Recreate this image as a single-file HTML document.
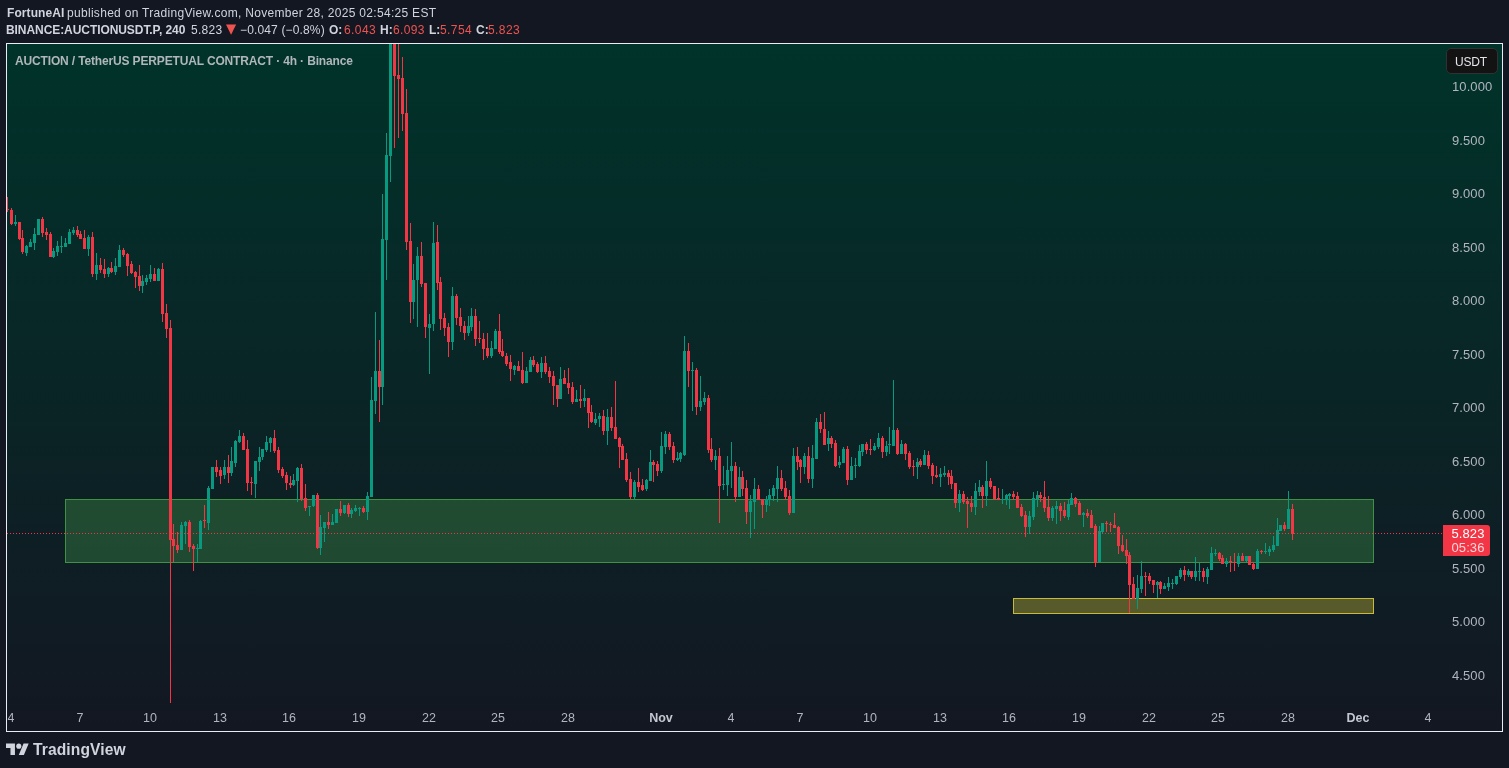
<!DOCTYPE html>
<html lang="en">
<head>
<meta charset="utf-8">
<title>AUCTIONUSDT.P chart</title>
<style>
html,body{margin:0;padding:0;}
body{width:1509px;height:768px;overflow:hidden;background:#131722;position:relative;
 font-family:"Liberation Sans",sans-serif;color:#d1d4dc;}
.abs{position:absolute;white-space:nowrap;will-change:transform;}
.hdr{font-size:12px;line-height:14px;height:14px;}
.hdr b{font-weight:bold;}
.red{color:#ef5350;}
#chart{position:absolute;left:6px;top:43px;width:1495px;height:687px;border:1px solid #e9ecf5;
 background:linear-gradient(to bottom,#00332a 0%,#131722 100%);}
#svg{position:absolute;left:0;top:0;}
.ax{font-size:13px;line-height:14px;color:#b2b5be;letter-spacing:0.1px;}
.tx{font-size:12.5px;line-height:14px;color:#b2b5be;transform:translateX(-50%);}
.tx b{color:#c4c7cf}
#title{left:14.6px;top:54px;font-size:12px;line-height:14px;font-weight:bold;color:#b0b6ba;letter-spacing:-0.15px;}
#usdt{left:1446px;top:48px;width:48px;padding-right:2px;height:24px;border:1px solid #2f3233;border-radius:5px;background:#131313;
 font-size:12px;line-height:26px;text-align:center;color:#e4e6ea;letter-spacing:-0.2px;}
#plabel{left:1443px;top:525px;width:47px;height:31px;background:#f23645;border-radius:0 3px 3px 0;color:#fff;}
#plabel div{position:absolute;left:8.5px;font-size:13px;line-height:14px;letter-spacing:0.1px;}
#logo{left:33px;top:741px;font-size:15.6px;line-height:18px;font-weight:bold;color:#d1d4dc;letter-spacing:0.1px;}
</style>
</head>
<body>
<div class="abs hdr" style="left:6.6px;top:6px;letter-spacing:0.08px"><b>FortuneAI</b></div>
<div class="abs hdr" style="left:66.9px;top:6px;letter-spacing:0.3px">published on TradingView.com, November 28, 2025 02:54:25 EST</div>
<div class="abs hdr" style="left:6.1px;top:23px;letter-spacing:-0.07px"><b>BINANCE:AUCTIONUSDT.P, 240</b></div>
<div class="abs hdr" style="left:191.2px;top:23px;letter-spacing:0.27px">5.823</div>
<div class="abs red" style="left:225.6px;top:19px;font:13.2px/20px 'DejaVu Sans',sans-serif">&#9660;</div>
<div class="abs hdr" style="left:240px;top:23px;letter-spacing:0.15px">&minus;0.047 (&minus;0.8%)</div>
<div class="abs hdr" style="left:328.9px;top:23px"><b>O:</b></div>
<div class="abs hdr red" style="left:343.8px;top:23px;letter-spacing:0.4px">6.043</div>
<div class="abs hdr" style="left:379.5px;top:23px"><b>H:</b></div>
<div class="abs hdr red" style="left:393.2px;top:23px;letter-spacing:0.35px">6.093</div>
<div class="abs hdr" style="left:428.7px;top:23px"><b>L:</b></div>
<div class="abs hdr red" style="left:439.5px;top:23px;letter-spacing:0.4px">5.754</div>
<div class="abs hdr" style="left:475.8px;top:23px"><b>C:</b></div>
<div class="abs hdr red" style="left:488px;top:23px;letter-spacing:0.4px">5.823</div>

<div id="chart"></div>

<svg id="svg" width="1509" height="768" viewBox="0 0 1509 768" shape-rendering="crispEdges">
<!-- green zone -->
<rect x="65.5" y="499.5" width="1308" height="63" fill="rgba(76,175,80,0.3)" stroke="#3f9144" stroke-width="1"/>
<!-- yellow zone -->
<rect x="1013.5" y="598.5" width="360" height="15" fill="rgba(255,235,59,0.3)" stroke="#c9bb3a" stroke-width="1"/>
<path fill="#089981" d="M15 215h1v11h-1zM14 222h3v2h-3zM26 245h1v11h-1zM25 246h3v7h-3zM30 239h1v8h-1zM29 242h3v5h-3zM34 228h1v22h-1zM33 234h3v9h-3zM37 219h3v16h-3zM53 248h1v10h-1zM52 251h3v6h-3zM57 241h1v15h-1zM56 246h3v6h-3zM61 236h1v17h-1zM60 246h3v1h-3zM65 238h1v9h-1zM64 243h3v4h-3zM69 229h1v15h-1zM68 232h3v12h-3zM73 227h1v8h-1zM72 230h3v3h-3zM88 235h1v21h-1zM87 237h3v12h-3zM96 253h1v27h-1zM95 265h3v9h-3zM108 267h1v10h-1zM107 268h3v6h-3zM115 258h1v17h-1zM114 266h3v6h-3zM119 245h1v22h-1zM118 250h3v17h-3zM142 275h1v18h-1zM141 281h3v5h-3zM146 275h1v10h-1zM145 278h3v4h-3zM150 265h1v17h-1zM149 274h3v5h-3zM158 268h1v13h-1zM157 269h3v12h-3zM181 522h1v28h-1zM180 525h3v25h-3zM185 521h1v23h-1zM184 522h3v4h-3zM197 544h1v18h-1zM196 548h3v1h-3zM200 520h1v29h-1zM199 521h3v28h-3zM208 486h1v44h-1zM207 488h3v35h-3zM211 467h3v22h-3zM224 460h1v19h-1zM223 467h3v8h-3zM231 447h1v29h-1zM230 461h3v12h-3zM235 440h1v27h-1zM234 441h3v22h-3zM239 430h1v13h-1zM238 436h3v6h-3zM255 461h1v37h-1zM254 461h3v23h-3zM259 447h1v24h-1zM258 457h3v5h-3zM262 449h1v11h-1zM261 449h3v8h-3zM266 436h1v16h-1zM265 442h3v8h-3zM270 437h1v15h-1zM269 438h3v5h-3zM293 474h1v12h-1zM292 480h3v5h-3zM297 467h1v35h-1zM296 468h3v13h-3zM309 506h1v10h-1zM308 506h3v1h-3zM313 495h1v12h-1zM312 495h3v11h-3zM320 515h1v40h-1zM319 527h3v21h-3zM324 522h1v20h-1zM323 522h3v6h-3zM332 514h1v11h-1zM331 522h3v3h-3zM335 509h3v14h-3zM344 505h1v9h-1zM343 505h3v8h-3zM351 508h1v10h-1zM350 510h3v4h-3zM355 505h1v7h-1zM354 508h3v3h-3zM359 507h1v9h-1zM358 508h3v1h-3zM367 492h1v28h-1zM366 496h3v16h-3zM371 377h1v120h-1zM370 400h3v97h-3zM375 312h1v102h-1zM374 371h3v30h-3zM382 194h1v211h-1zM381 239h3v148h-3zM386 133h1v147h-1zM385 155h3v85h-3zM390 44h1v138h-1zM389 44h3v112h-3zM413 264h1v55h-1zM412 280h3v22h-3zM417 247h1v80h-1zM416 256h3v24h-3zM429 314h1v60h-1zM428 324h3v4h-3zM433 222h1v109h-1zM432 243h3v81h-3zM452 287h1v63h-1zM451 296h3v46h-3zM468 316h1v20h-1zM467 326h3v7h-3zM471 308h1v23h-1zM470 316h3v11h-3zM491 341h1v17h-1zM490 348h3v8h-3zM495 329h1v20h-1zM494 331h3v18h-3zM514 365h1v10h-1zM513 366h3v4h-3zM526 367h1v16h-1zM525 371h3v12h-3zM530 357h1v15h-1zM529 360h3v12h-3zM541 357h1v21h-1zM540 363h3v9h-3zM560 367h1v32h-1zM559 379h3v20h-3zM576 390h1v12h-1zM575 399h3v3h-3zM584 389h1v18h-1zM583 398h3v3h-3zM595 413h1v12h-1zM594 419h3v4h-3zM599 413h1v14h-1zM598 416h3v3h-3zM607 409h1v36h-1zM606 417h3v14h-3zM634 480h1v19h-1zM633 482h3v15h-3zM646 479h1v12h-1zM645 480h3v9h-3zM650 450h1v31h-1zM649 462h3v19h-3zM661 432h1v41h-1zM660 446h3v25h-3zM665 431h1v23h-1zM664 434h3v13h-3zM677 452h1v9h-1zM676 458h3v2h-3zM680 452h1v10h-1zM679 453h3v6h-3zM684 336h1v120h-1zM683 351h3v104h-3zM692 362h1v49h-1zM691 370h3v1h-3zM700 376h1v35h-1zM699 401h3v6h-3zM704 392h1v13h-1zM703 398h3v4h-3zM715 450h1v20h-1zM714 456h3v4h-3zM723 466h1v24h-1zM722 484h3v1h-3zM727 456h1v40h-1zM726 470h3v15h-3zM731 442h1v46h-1zM730 466h3v5h-3zM739 467h1v30h-1zM738 477h3v20h-3zM750 495h1v43h-1zM749 501h3v11h-3zM754 478h1v51h-1zM753 489h3v13h-3zM766 496h1v16h-1zM765 499h3v6h-3zM769 489h1v17h-1zM768 495h3v5h-3zM773 485h1v16h-1zM772 488h3v8h-3zM777 466h1v36h-1zM776 478h3v11h-3zM793 448h1v65h-1zM792 456h3v57h-3zM804 453h1v21h-1zM803 456h3v11h-3zM812 445h1v43h-1zM811 458h3v21h-3zM816 418h1v41h-1zM815 422h3v37h-3zM828 431h1v20h-1zM827 438h3v6h-3zM839 456h1v12h-1zM838 462h3v3h-3zM843 447h1v16h-1zM842 449h3v14h-3zM851 457h1v23h-1zM850 466h3v14h-3zM855 458h1v20h-1zM854 465h3v1h-3zM859 445h1v22h-1zM858 451h3v15h-3zM862 444h1v12h-1zM861 444h3v8h-3zM874 443h1v8h-1zM873 446h3v4h-3zM878 433h1v16h-1zM877 438h3v9h-3zM886 441h1v15h-1zM885 446h3v6h-3zM889 427h1v27h-1zM888 444h3v1h-3zM893 380h1v66h-1zM892 430h3v16h-3zM901 440h1v14h-1zM900 444h3v10h-3zM917 458h1v21h-1zM916 462h3v5h-3zM924 450h1v15h-1zM923 455h3v10h-3zM940 468h1v19h-1zM939 474h3v3h-3zM944 466h1v11h-1zM943 473h3v2h-3zM959 490h1v22h-1zM958 494h3v9h-3zM975 483h1v32h-1zM974 491h3v16h-3zM979 480h1v16h-1zM978 487h3v5h-3zM986 461h1v45h-1zM985 481h3v15h-3zM1002 489h1v15h-1zM1001 499h3v1h-3zM1006 494h1v11h-1zM1005 495h3v5h-3zM1009 493h1v16h-1zM1008 494h3v2h-3zM1029 511h1v23h-1zM1028 516h3v11h-3zM1033 492h1v28h-1zM1032 498h3v19h-3zM1037 491h1v16h-1zM1036 495h3v4h-3zM1052 506h1v15h-1zM1051 508h3v10h-3zM1056 501h1v23h-1zM1055 506h3v3h-3zM1068 500h1v20h-1zM1067 504h3v13h-3zM1071 493h1v12h-1zM1070 498h3v7h-3zM1083 512h1v15h-1zM1082 513h3v2h-3zM1099 526h1v36h-1zM1098 531h3v31h-3zM1102 523h1v10h-1zM1101 523h3v9h-3zM1137 575h1v34h-1zM1136 588h3v11h-3zM1141 561h1v32h-1zM1140 576h3v13h-3zM1157 581h1v17h-1zM1156 582h3v3h-3zM1164 583h1v6h-1zM1163 586h3v3h-3zM1168 577h1v14h-1zM1167 583h3v4h-3zM1172 579h1v10h-1zM1171 583h3v1h-3zM1176 576h1v9h-1zM1175 576h3v8h-3zM1180 568h1v11h-1zM1179 570h3v7h-3zM1188 569h1v8h-1zM1187 571h3v4h-3zM1195 557h1v24h-1zM1194 571h3v6h-3zM1199 563h1v18h-1zM1198 571h3v1h-3zM1207 567h1v17h-1zM1206 569h3v8h-3zM1211 547h1v23h-1zM1210 553h3v17h-3zM1215 549h1v7h-1zM1214 553h3v1h-3zM1226 558h1v9h-1zM1225 561h3v3h-3zM1238 553h1v14h-1zM1237 556h3v8h-3zM1246 556h1v6h-1zM1245 556h3v5h-3zM1257 549h1v20h-1zM1256 551h3v18h-3zM1265 543h1v11h-1zM1264 551h3v1h-3zM1269 546h1v10h-1zM1268 549h3v3h-3zM1273 536h1v16h-1zM1272 545h3v5h-3zM1277 518h1v28h-1zM1276 530h3v16h-3zM1279 525h3v6h-3zM1288 491h1v38h-1zM1287 509h3v20h-3z"/>
<path fill="#f23645" d="M7 197h1v15h-1zM7 209h2v1h-2zM11 208h1v17h-1zM10 210h3v14h-3zM19 222h1v18h-1zM18 222h3v17h-3zM22 230h1v24h-1zM21 238h3v14h-3zM42 217h1v20h-1zM41 219h3v14h-3zM46 228h1v12h-1zM45 232h3v3h-3zM50 232h1v25h-1zM49 234h3v23h-3zM77 226h1v11h-1zM76 230h3v5h-3zM80 231h1v8h-1zM79 234h3v5h-3zM84 230h1v19h-1zM83 238h3v11h-3zM92 232h1v45h-1zM91 237h3v37h-3zM100 258h1v15h-1zM99 265h3v5h-3zM104 259h1v19h-1zM103 269h3v5h-3zM111 262h1v11h-1zM110 268h3v4h-3zM123 248h1v9h-1zM122 250h3v5h-3zM127 253h1v23h-1zM126 254h3v12h-3zM131 261h1v13h-1zM130 264h3v9h-3zM135 271h1v17h-1zM134 272h3v5h-3zM139 265h1v26h-1zM138 276h3v10h-3zM154 268h1v13h-1zM153 274h3v7h-3zM162 263h1v59h-1zM161 269h3v45h-3zM166 304h1v34h-1zM165 313h3v16h-3zM170 320h1v383h-1zM169 328h3v212h-3zM173 524h1v38h-1zM172 539h3v7h-3zM177 532h1v21h-1zM176 545h3v5h-3zM189 520h1v32h-1zM188 522h3v25h-3zM193 544h1v27h-1zM192 546h3v3h-3zM204 505h1v23h-1zM203 520h3v1h-3zM216 460h1v17h-1zM215 467h3v5h-3zM220 467h1v17h-1zM219 470h3v6h-3zM228 455h1v28h-1zM227 467h3v6h-3zM243 433h1v17h-1zM242 436h3v14h-3zM247 440h1v51h-1zM246 449h3v34h-3zM251 477h1v18h-1zM250 482h3v1h-3zM274 430h1v23h-1zM273 438h3v13h-3zM278 447h1v26h-1zM277 450h3v20h-3zM282 467h1v11h-1zM281 469h3v7h-3zM286 472h1v18h-1zM285 475h3v8h-3zM290 476h1v12h-1zM289 483h3v2h-3zM301 464h1v37h-1zM300 468h3v31h-3zM305 484h1v27h-1zM304 498h3v10h-3zM317 493h1v56h-1zM316 495h3v53h-3zM328 512h1v17h-1zM327 522h3v3h-3zM340 501h1v15h-1zM339 509h3v4h-3zM348 503h1v14h-1zM347 505h3v9h-3zM363 506h1v7h-1zM362 508h3v4h-3zM379 340h1v82h-1zM378 371h3v16h-3zM394 44h1v104h-1zM393 44h3v32h-3zM398 44h1v94h-1zM397 75h3v4h-3zM402 57h1v74h-1zM401 78h3v36h-3zM406 89h1v161h-1zM405 113h3v129h-3zM410 223h1v100h-1zM409 241h3v61h-3zM421 242h1v45h-1zM420 256h3v28h-3zM425 283h1v55h-1zM424 283h3v44h-3zM437 225h1v65h-1zM436 242h3v41h-3zM440 277h1v53h-1zM439 282h3v37h-3zM444 313h1v23h-1zM443 318h3v10h-3zM448 323h1v34h-1zM447 327h3v15h-3zM456 294h1v31h-1zM455 296h3v22h-3zM460 308h1v24h-1zM459 317h3v9h-3zM464 321h1v19h-1zM463 326h3v7h-3zM475 309h1v37h-1zM474 316h3v23h-3zM479 321h1v22h-1zM478 338h3v1h-3zM483 333h1v27h-1zM482 339h3v10h-3zM487 333h1v25h-1zM486 348h3v8h-3zM499 314h1v40h-1zM498 331h3v21h-3zM502 339h1v18h-1zM501 351h3v5h-3zM506 353h1v13h-1zM505 356h3v8h-3zM510 355h1v26h-1zM509 362h3v7h-3zM518 361h1v10h-1zM517 366h3v5h-3zM522 352h1v32h-1zM521 370h3v13h-3zM533 356h1v11h-1zM532 360h3v5h-3zM537 362h1v11h-1zM536 364h3v8h-3zM545 356h1v18h-1zM544 363h3v9h-3zM549 367h1v16h-1zM548 371h3v6h-3zM553 371h1v34h-1zM552 376h3v10h-3zM557 385h1v22h-1zM556 385h3v14h-3zM564 370h1v14h-1zM563 378h3v6h-3zM568 368h1v26h-1zM567 383h3v5h-3zM572 382h1v22h-1zM571 387h3v15h-3zM580 385h1v23h-1zM579 399h3v2h-3zM588 398h1v30h-1zM587 398h3v15h-3zM591 405h1v18h-1zM590 412h3v10h-3zM603 410h1v25h-1zM602 416h3v15h-3zM611 407h1v24h-1zM610 417h3v11h-3zM615 381h1v58h-1zM614 427h3v12h-3zM619 437h1v31h-1zM618 438h3v9h-3zM622 444h1v16h-1zM621 446h3v14h-3zM626 453h1v29h-1zM625 459h3v21h-3zM630 472h1v27h-1zM629 479h3v18h-3zM638 468h1v24h-1zM637 482h3v5h-3zM642 479h1v12h-1zM641 485h3v5h-3zM653 460h1v22h-1zM652 462h3v3h-3zM657 461h1v15h-1zM656 464h3v7h-3zM669 432h1v18h-1zM668 434h3v13h-3zM673 442h1v21h-1zM672 446h3v14h-3zM688 343h1v44h-1zM687 351h3v20h-3zM696 368h1v47h-1zM695 370h3v37h-3zM708 395h1v58h-1zM707 398h3v52h-3zM711 438h1v24h-1zM710 449h3v11h-3zM719 448h1v75h-1zM718 456h3v30h-3zM735 462h1v40h-1zM734 466h3v31h-3zM742 471h1v25h-1zM741 477h3v12h-3zM746 480h1v44h-1zM745 488h3v24h-3zM758 485h1v15h-1zM757 489h3v11h-3zM762 499h1v19h-1zM761 499h3v6h-3zM781 470h1v21h-1zM780 478h3v11h-3zM785 481h1v19h-1zM784 488h3v9h-3zM789 490h1v25h-1zM788 496h3v17h-3zM797 447h1v23h-1zM796 456h3v6h-3zM800 459h1v24h-1zM799 460h3v7h-3zM808 447h1v36h-1zM807 456h3v23h-3zM820 414h1v19h-1zM819 422h3v7h-3zM824 412h1v33h-1zM823 429h3v16h-3zM831 436h1v12h-1zM830 438h3v6h-3zM835 440h1v27h-1zM834 443h3v23h-3zM847 446h1v39h-1zM846 449h3v31h-3zM866 442h1v12h-1zM865 444h3v6h-3zM870 439h1v16h-1zM869 449h3v1h-3zM882 436h1v22h-1zM881 438h3v14h-3zM897 428h1v27h-1zM896 430h3v24h-3zM905 443h1v17h-1zM904 444h3v10h-3zM909 451h1v18h-1zM908 453h3v14h-3zM913 460h1v16h-1zM912 466h3v1h-3zM920 459h1v8h-1zM919 461h3v4h-3zM928 451h1v18h-1zM927 455h3v11h-3zM932 463h1v21h-1zM931 465h3v11h-3zM936 466h1v12h-1zM935 475h3v2h-3zM948 470h1v15h-1zM947 473h3v4h-3zM951 470h1v19h-1zM950 476h3v8h-3zM955 483h1v25h-1zM954 483h3v20h-3zM963 491h1v13h-1zM962 494h3v8h-3zM967 497h1v31h-1zM966 501h3v3h-3zM971 496h1v16h-1zM970 503h3v4h-3zM982 485h1v23h-1zM981 487h3v9h-3zM990 478h1v11h-1zM989 481h3v6h-3zM994 486h1v14h-1zM993 486h3v13h-3zM998 488h1v12h-1zM997 498h3v2h-3zM1013 491h1v9h-1zM1012 494h3v3h-3zM1017 492h1v16h-1zM1016 496h3v12h-3zM1021 504h1v13h-1zM1020 507h3v9h-3zM1025 511h1v26h-1zM1024 515h3v12h-3zM1040 492h1v10h-1zM1039 495h3v3h-3zM1044 481h1v31h-1zM1043 497h3v11h-3zM1048 496h1v25h-1zM1047 507h3v11h-3zM1060 503h1v18h-1zM1059 506h3v5h-3zM1064 502h1v16h-1zM1063 510h3v6h-3zM1075 497h1v10h-1zM1074 498h3v6h-3zM1079 501h1v14h-1zM1078 503h3v12h-3zM1087 509h1v9h-1zM1086 513h3v3h-3zM1091 510h1v18h-1zM1090 515h3v13h-3zM1095 524h1v43h-1zM1094 526h3v37h-3zM1106 521h1v11h-1zM1105 523h3v1h-3zM1110 522h1v10h-1zM1109 524h3v1h-3zM1114 513h1v15h-1zM1113 525h3v3h-3zM1118 526h1v28h-1zM1117 527h3v19h-3zM1122 535h1v17h-1zM1121 545h3v6h-3zM1126 539h1v25h-1zM1125 550h3v6h-3zM1129 552h1v61h-1zM1128 555h3v30h-3zM1133 577h1v22h-1zM1132 584h3v15h-3zM1145 572h1v24h-1zM1144 576h3v1h-3zM1149 573h1v11h-1zM1148 576h3v5h-3zM1153 580h1v13h-1zM1152 580h3v5h-3zM1160 581h1v13h-1zM1159 582h3v7h-3zM1184 566h1v15h-1zM1183 570h3v5h-3zM1191 571h1v8h-1zM1190 571h3v6h-3zM1203 568h1v14h-1zM1202 571h3v6h-3zM1219 552h1v9h-1zM1218 553h3v6h-3zM1222 555h1v9h-1zM1221 558h3v6h-3zM1230 556h1v16h-1zM1229 561h3v1h-3zM1234 553h1v18h-1zM1233 562h3v1h-3zM1242 553h1v8h-1zM1241 556h3v5h-3zM1248 556h3v9h-3zM1253 562h1v8h-1zM1252 564h3v5h-3zM1261 550h1v4h-1zM1260 551h3v1h-3zM1284 522h1v9h-1zM1283 525h3v4h-3zM1292 504h1v36h-1zM1291 509h3v25h-3z"/>
<!-- price line -->
<line x1="7" y1="533.5" x2="1443" y2="533.5" stroke="#f23645" stroke-width="1" stroke-dasharray="1 2"/>
</svg>

<div class="abs" id="title">AUCTION / TetherUS PERPETUAL CONTRACT &middot; 4h &middot; Binance</div>
<div class="abs" id="usdt">USDT</div>

<div class="abs ax" style="left:1452px;top:80px">10.000</div>
<div class="abs ax" style="left:1452px;top:134px">9.500</div>
<div class="abs ax" style="left:1452px;top:187px">9.000</div>
<div class="abs ax" style="left:1452px;top:241px">8.500</div>
<div class="abs ax" style="left:1452px;top:294px">8.000</div>
<div class="abs ax" style="left:1452px;top:348px">7.500</div>
<div class="abs ax" style="left:1452px;top:401px">7.000</div>
<div class="abs ax" style="left:1452px;top:455px">6.500</div>
<div class="abs ax" style="left:1452px;top:508px">6.000</div>
<div class="abs ax" style="left:1452px;top:562px">5.500</div>
<div class="abs ax" style="left:1452px;top:615px">5.000</div>
<div class="abs ax" style="left:1452px;top:669px">4.500</div>

<div class="abs" id="plabel"><div style="top:2px">5.823</div><div style="top:16px;color:#fbd5d9">05:36</div></div>

<div class="abs tx" style="left:10.5px;top:711px">4</div>
<div class="abs tx" style="left:80.3px;top:711px">7</div>
<div class="abs tx" style="left:150px;top:711px">10</div>
<div class="abs tx" style="left:219.7px;top:711px">13</div>
<div class="abs tx" style="left:289.4px;top:711px">16</div>
<div class="abs tx" style="left:359.1px;top:711px">19</div>
<div class="abs tx" style="left:428.7px;top:711px">22</div>
<div class="abs tx" style="left:498.4px;top:711px">25</div>
<div class="abs tx" style="left:568.1px;top:711px">28</div>
<div class="abs tx" style="left:661px;top:711px"><b>Nov</b></div>
<div class="abs tx" style="left:730.7px;top:711px">4</div>
<div class="abs tx" style="left:800.4px;top:711px">7</div>
<div class="abs tx" style="left:870px;top:711px">10</div>
<div class="abs tx" style="left:939.7px;top:711px">13</div>
<div class="abs tx" style="left:1009.4px;top:711px">16</div>
<div class="abs tx" style="left:1079.1px;top:711px">19</div>
<div class="abs tx" style="left:1148.7px;top:711px">22</div>
<div class="abs tx" style="left:1218.4px;top:711px">25</div>
<div class="abs tx" style="left:1288.1px;top:711px">28</div>
<div class="abs tx" style="left:1357.8px;top:711px"><b>Dec</b></div>
<div class="abs tx" style="left:1427.5px;top:711px">4</div>

<svg class="abs" style="left:6px;top:741px" width="23" height="18" viewBox="0 0 36 28"><path fill="#d1d4dc" d="M14 22H7V11H0V4h14v18zM28 22h-8l7.5-18h8L28 22z"/><circle fill="#d1d4dc" cx="20" cy="8" r="4"/></svg>
<div class="abs" id="logo">TradingView</div>
</body>
</html>
